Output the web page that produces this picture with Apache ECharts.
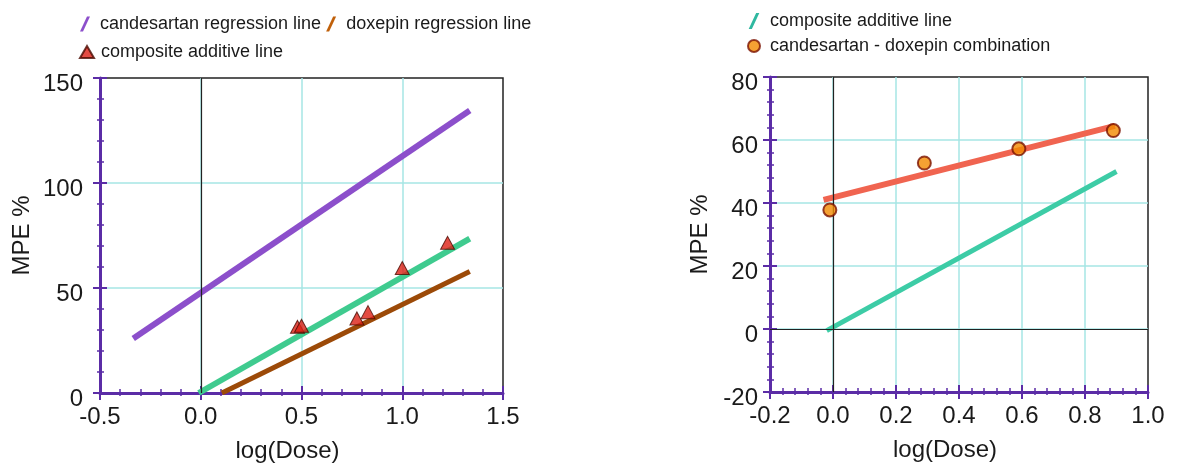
<!DOCTYPE html>
<html><head><meta charset="utf-8">
<script src="https://cdn.jsdelivr.net/npm/echarts@6/dist/echarts.min.js"></script>
<style>html,body{margin:0;padding:0;background:#fff}#c{width:1186px;height:466px}</style>
</head><body><div id="c"></div>
<script>
// ---------- data ----------
const leftXTicks = [-0.5, 0.0, 0.5, 1.0, 1.5];
const leftYTicks = [0, 50, 100, 150];
const rightXTicks = [-0.2, 0.0, 0.2, 0.4, 0.6, 0.8, 1.0];
const rightYTicks = [-20, 0, 20, 40, 60, 80];

const candesartanLine = [[-0.335, 26], [1.335, 134.5]];
const doxepinLine = [[0.105, 0], [1.335, 57.8]];
const compositeLineLeft = [[-0.01, 0], [1.335, 73.5]];
const compositePoints = [[0.48, 31.5], [0.50, 32], [0.775, 35.5], [0.83, 38.5], [1.0, 59.5], [1.225, 71.5]];

const combinationLine = [[-0.03, 41], [0.895, 64.5]];
const compositeLineRight = [[-0.02, -0.5], [0.9, 50]];
const combinationPoints = [[-0.01, 37.8], [0.29, 52.7], [0.59, 57.2], [0.89, 63]];

const leftZeroLines = [{ xAxis: 0 }];
const rightZeroLines = [{ xAxis: 0 }, { yAxis: 0 }];

const xName = 'log(Dose)';
const yName = 'MPE %';

// ---------- style ----------
const FONT = '"Liberation Sans", Arial, Helvetica, sans-serif';
const PURPLE = '#5b2ca6';
const GRIDC = '#a6e6e4';
const TXT = '#1a1a1a';
const SLASH = 'path://M0,12 L2.4,12 L8,0 L5.6,0 Z';

function range(t) { return { min: t[0], max: t[t.length - 1], interval: +(t[1] - t[0]).toFixed(6) }; }

function mainX(t, g, gap) {
  return Object.assign({
    type: 'value', gridIndex: g, position: 'bottom',
    name: xName, nameLocation: 'middle', nameGap: gap,
    nameTextStyle: { fontSize: 24, color: TXT, fontFamily: FONT, padding: [0, 28, 0, 0] },
    axisLine: { show: true, onZero: false, lineStyle: { color: PURPLE, width: 3 } },
    axisTick: { show: true, inside: true, length: 7, lineStyle: { color: PURPLE, width: 2 } },
    minorTick: { show: true, splitNumber: 5, length: 4, lineStyle: { color: PURPLE, width: 1.5 } },
    axisLabel: { fontSize: 24, color: TXT, fontFamily: FONT, margin: 12, formatter: v => v.toFixed(1) },
    splitLine: { show: true, showMinLine: false, showMaxLine: false, lineStyle: { color: GRIDC, width: 1.5 } }
  }, range(t));
}
function mainY(t, g, gap, margin) {
  return Object.assign({
    type: 'value', gridIndex: g, position: 'left',
    name: yName, nameLocation: 'middle', nameGap: gap, nameRotate: 90,
    nameTextStyle: { fontSize: 24, color: TXT, fontFamily: FONT },
    axisLine: { show: true, onZero: false, lineStyle: { color: PURPLE, width: 3 } },
    axisTick: { show: true, inside: true, length: 7, lineStyle: { color: PURPLE, width: 2 } },
    minorTick: { show: true, splitNumber: 5, length: 4, lineStyle: { color: PURPLE, width: 1.5 } },
    axisLabel: { fontSize: 24, color: TXT, fontFamily: FONT, margin: margin, verticalAlign: 'top', lineHeight: 13, formatter: v => String(Math.round(v)) },
    splitLine: { show: true, showMinLine: false, showMaxLine: false, lineStyle: { color: GRIDC, width: 1.5 } }
  }, range(t));
}
function dupAxis(t, g, pos) {
  return Object.assign({
    type: 'value', gridIndex: g, position: pos,
    axisLine: { show: false, onZero: false },
    axisTick: { show: true, inside: false, length: 7, lineStyle: { color: PURPLE, width: 2 } },
    minorTick: { show: true, splitNumber: 5, length: 3, lineStyle: { color: PURPLE, width: 1.5 } },
    axisLabel: { show: false },
    splitLine: { show: false }
  }, range(t));
}

const zeroMark = (data) => ({
  silent: true, symbol: ['none', 'none'], animation: false,
  label: { show: false },
  lineStyle: { color: '#222', type: 'solid', width: 1.2 },
  data: data
});

const legendText = { fontSize: 18, color: TXT, fontFamily: FONT };
const fmt = n => n.replace(/ \(.*\)$/, '');

const option = {
  backgroundColor: '#fff',
  animation: false,
  textStyle: { fontFamily: FONT },
  grid: [
    { left: 100, top: 78, width: 403, height: 315, outerBoundsMode: 'none', containLabel: false, show: true, borderColor: '#222', borderWidth: 1.5, backgroundColor: 'transparent' },
    { left: 770, top: 77, width: 378, height: 315, outerBoundsMode: 'none', containLabel: false, show: true, borderColor: '#222', borderWidth: 1.5, backgroundColor: 'transparent' }
  ],
  legend: [
    { left: 80, top: 15, padding: 0, itemWidth: 10, itemHeight: 16, itemGap: 5, formatter: fmt,
      textStyle: Object.assign({ padding: [0, 0, 0, 5] }, legendText),
      data: [{ name: 'candesartan regression line', icon: SLASH }, { name: 'doxepin regression line', icon: SLASH }] },
    { left: 79, top: 43, padding: 0, itemWidth: 14, itemHeight: 12, formatter: fmt,
      textStyle: Object.assign({ padding: [0, 0, 0, 2] }, legendText),
      data: [{ name: 'composite additive line (points)', icon: 'triangle' }] },
    { left: 747, top: 11, padding: 0, orient: 'vertical', itemWidth: 12, itemHeight: 16, itemGap: 5, formatter: fmt,
      textStyle: Object.assign({ padding: [0, 0, 0, 5], lineHeight: 20 }, legendText),
      data: [{ name: 'composite additive line (right)', icon: SLASH }, { name: 'candesartan - doxepin combination', icon: 'circle' }] }
  ],
  xAxis: [mainX(leftXTicks, 0, 46), dupAxis(leftXTicks, 0, 'bottom'), mainX(rightXTicks, 1, 46), dupAxis(rightXTicks, 1, 'bottom')],
  yAxis: [mainY(leftYTicks, 0, 66, 17), dupAxis(leftYTicks, 0, 'left'), mainY(rightYTicks, 1, 58, 12), dupAxis(rightYTicks, 1, 'left')],
  series: [
    { name: 'zero left', type: 'line', xAxisIndex: 0, yAxisIndex: 0, data: [], markLine: zeroMark(leftZeroLines), z: 1 },
    { name: 'candesartan regression line', type: 'line', xAxisIndex: 0, yAxisIndex: 0, data: candesartanLine,
      showSymbol: false, color: '#8c4fcb', lineStyle: { width: 6, color: '#8c4fcb' }, z: 3 },
    { name: 'doxepin regression line', type: 'line', xAxisIndex: 0, yAxisIndex: 0, data: doxepinLine,
      showSymbol: false, color: '#c0600a', lineStyle: { width: 5, color: '#9c4a08' }, z: 3 },
    { name: 'composite additive line (left line)', type: 'line', xAxisIndex: 0, yAxisIndex: 0, data: compositeLineLeft,
      showSymbol: false, color: '#3fcb8f', lineStyle: { width: 6, color: '#3fcb8f' }, z: 3 },
    { name: 'composite additive line (points)', type: 'scatter', xAxisIndex: 0, yAxisIndex: 0, data: compositePoints,
      symbol: 'triangle', symbolSize: [14, 13], color: '#dc1f14',
      itemStyle: { color: '#dc1f14', borderColor: '#4a0a00', borderWidth: 1 }, z: 5 },

    { name: 'zero right', type: 'line', xAxisIndex: 2, yAxisIndex: 2, data: [], markLine: zeroMark(rightZeroLines), z: 1 },
    { name: 'candesartan - doxepin combination line', type: 'line', xAxisIndex: 2, yAxisIndex: 2, data: combinationLine,
      showSymbol: false, color: '#f06450', lineStyle: { width: 6, color: '#f06450' }, z: 3 },
    { name: 'composite additive line (right)', type: 'line', xAxisIndex: 2, yAxisIndex: 2, data: compositeLineRight,
      showSymbol: false, color: '#2fb8a0', lineStyle: { width: 5, color: '#3dcca6' }, z: 3 },
    { name: 'candesartan - doxepin combination', type: 'scatter', xAxisIndex: 2, yAxisIndex: 2, data: combinationPoints,
      symbol: 'circle', symbolSize: 13, color: '#ee8100',
      itemStyle: { color: '#f28a00', borderColor: '#7a1200', borderWidth: 2 }, z: 5 }
  ]
};

const chart = echarts.init(document.getElementById('c'), null, { renderer: 'canvas' });
chart.setOption(option);
</script>
</body></html>
